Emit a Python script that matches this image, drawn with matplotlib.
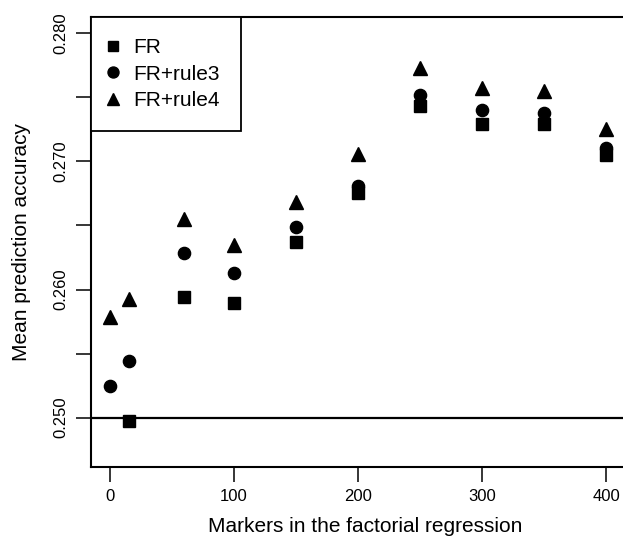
import matplotlib
matplotlib.use('Agg')
import matplotlib.pyplot as plt
import numpy as np

# ---- data ----
x_markers = [0, 15, 60, 100, 150, 200, 250, 300, 350, 400]
fr = [np.nan, 0.24977, 0.25940, 0.25893, 0.26369, 0.26756, 0.27433, 0.27292, 0.27292, 0.27050]
fr_rule3 = [0.25247, 0.25445, 0.26283, 0.26127, 0.26486, 0.26808, 0.27519, 0.27402, 0.27376, 0.27103]
fr_rule4 = [0.25788, 0.25924, 0.26551, 0.26348, 0.26686, 0.27056, 0.27727, 0.27571, 0.27550, 0.27251]
baseline = 0.25
series_labels = ['FR', 'FR+rule3', 'FR+rule4']
x_ticks = [0, 100, 200, 300, 400]
y_ticks = [0.250, 0.255, 0.260, 0.265, 0.270, 0.275, 0.280]
y_ticklabels = ['0.250', '', '0.260', '', '0.270', '', '0.280']
x_label = 'Markers in the factorial regression'
y_label = 'Mean prediction accuracy'

plt.rcParams['font.family'] = ['Liberation Sans', 'DejaVu Sans']

W, H = 623, 540
fig = plt.figure(figsize=(W / 100, H / 100), dpi=100)
ax_left, ax_right, ax_top, ax_bottom = 91, 640, 17, 467
ax = fig.add_axes([ax_left / W, 1 - ax_bottom / H, (ax_right - ax_left) / W, (ax_bottom - ax_top) / H])

ax.plot(x_markers, fr, linestyle='none', marker='s', ms=8, color='black', label=series_labels[0])
ax.plot(x_markers, fr_rule3, linestyle='none', marker='o', ms=8.8, color='black', label=series_labels[1])
ax.plot(x_markers, fr_rule4, linestyle='none', marker='^', ms=9.8, color='black', label=series_labels[2])
ax.axhline(baseline, color='black', lw=1.6)

ax.set_xlim(-15.32, 427.4)
ax.set_ylim(0.24615, 0.28127)

ax.set_xticks(x_ticks)
ax.set_xticklabels([str(t) for t in x_ticks], fontsize=12)
ax.set_yticks(y_ticks)
ax.set_yticklabels(y_ticklabels, fontsize=12, rotation=90, va='center')
ax.tick_params(axis='both', direction='out', length=10.5, width=1.1, color='black')
ax.tick_params(axis='x', pad=5)
ax.tick_params(axis='y', pad=6)

for s in ['left', 'top', 'bottom']:
    ax.spines[s].set_linewidth(1.5)
ax.spines['right'].set_visible(False)

ax.set_xlabel(x_label, fontsize=15, labelpad=10)
ax.set_ylabel(y_label, fontsize=15, labelpad=16)

leg = ax.legend(loc='upper left', bbox_to_anchor=(0, 1), borderaxespad=0, fontsize=15,
                fancybox=False, edgecolor='black', framealpha=1, handlelength=0.1,
                handletextpad=0.95, labelspacing=0.37, borderpad=1.0, markerscale=0.9)
leg.get_frame().set_linewidth(1.3)

fig.savefig('out.png', dpi=100)
